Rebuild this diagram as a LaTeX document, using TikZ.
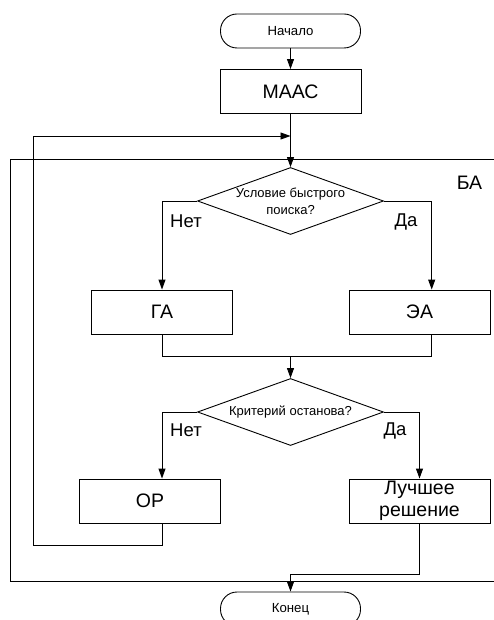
\documentclass[tikz,border=0pt]{standalone}
\usepackage{fontspec}
\setmainfont{Liberation Sans}
\usetikzlibrary{shapes.geometric,arrows.meta}
\begin{document}
\begin{tikzpicture}[x=1pt,y=-1pt,line width=0.9pt,
  term/.style={draw,rectangle,rounded corners=16.5pt,minimum width=140pt,minimum height=34pt,font=\fontsize{13.2}{15}\selectfont,inner sep=0pt},
  box/.style={draw,rectangle,minimum width=141pt,minimum height=44pt,font=\fontsize{19.5}{22}\selectfont,align=center,inner sep=0pt},
  dec/.style={draw,diamond,minimum width=186pt,minimum height=67pt,inner sep=0pt,aspect=2.78,font=\fontsize{13}{17}\selectfont,align=center},
  lbl/.style={font=\fontsize{18.5}{20}\selectfont,inner sep=0pt},
  arr/.style={-{Triangle[length=10pt,width=7pt]}}]
\useasboundingbox (0,0) rectangle (494,620);
% frame BA
\draw (494,159.3) -- (10.7,159.3) -- (10.7,581) -- (494,581);
\node[lbl,font=\fontsize{19.5}{22}\selectfont] (ba) at (469.5,183) {БА};
% nodes
\node[term] (start) at (290.5,31) {Начало};
\node[box] (maas) at (290.5,91.5) {МААС};
\coordinate (j1) at (290.5,136);
\node[dec] (d1) at (290.5,201) {Условие быстрого\\поиска?};
\node[box] (ga) at (162,312) {ГА};
\node[box] (ea) at (419.5,312) {ЭА};
\coordinate (xr) at (431.7,0);
\coordinate (m) at (290.5,356.7);
\node[dec] (d2) at (290.5,412) {Критерий останова?};
\node[box] (op) at (150,501) {ОР};
\node[box] (best) at (419.5,501) {Лучшее\\решение};
\coordinate (fbl) at (33.3,545.3);
\coordinate (m2) at (290.5,574.3);
\node[term] (end) at (290.5,609) {Конец};
% labels
\node[lbl] (n1) at (186,221.5) {Нет};
\node[lbl] (y1) at (406,221.5) {Да};
\node[lbl] (n2) at (186,430.5) {Нет};
\node[lbl] (y2) at (395,430.5) {Да};
% connectors
\draw[arr] (start) -- (maas);
\draw[arr] (maas) -- (d1);
\draw[arr] (op.south -| ga) |- (fbl) |- (j1);
\draw[arr] (d1.west) -| (ga);
\draw[arr] (d1.east) -| (ea.north -| xr);
\draw (ga.south) |- (m) -| (ea.south -| xr);
\draw[arr] (m) -- (d2);
\draw[arr] (d2.west) -| (op.north -| ga);
\draw[arr] (d2.east) -| (best);
\draw[arr] (best.south) |- (m2) -- (end);
\end{tikzpicture}
\end{document}
